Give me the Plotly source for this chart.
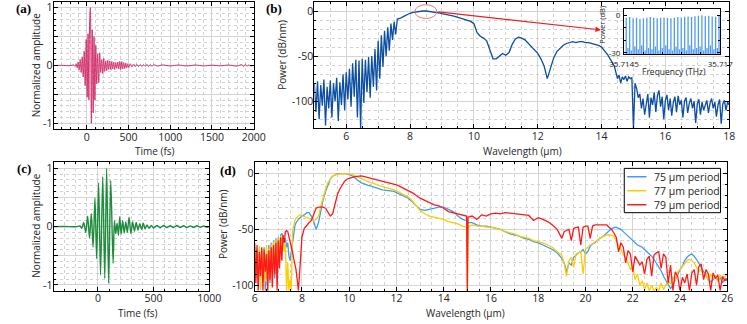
import plotly.graph_objects as go

# ---------------------------------------------------------------- data
# (a) input pulse, extrema
a_time_fs = [-400, -300, -200, -160, -140, -128, -116, -104, -92, -80,
             -68, -56, -44, -32, -20, -8, 4, 14, 24, 33,
             42, 54, 64, 76, 86, 96, 107, 118, 130, 142,
             154, 166, 178, 190, 202, 214, 226, 238, 250, 262,
             274, 286, 298, 310, 322, 334, 346, 358, 370, 382,
             394, 406, 418, 430, 442, 454, 466, 478, 490, 502,
             520, 540, 560, 580, 600, 620, 640, 660, 680, 700,
             720, 740, 760, 780, 800, 850, 900, 1000, 1100, 1200,
             1300, 1400, 1500, 1600, 1700, 1800, 1860, 1880, 1900, 1920,
             1940, 1960, 2000]
a_amplitude = [0, 0.003, -0.003, 0.01, -0.015, 0.03, -0.04, 0.06, -0.08, 0.1,
               -0.12, 0.15, -0.2, 0.25, -0.35, 0.45, -0.55, 0.55, -0.6, 0.75,
               1.0, -1.0, 0.62, -0.82, 0.5, -0.6, 0.35, -0.32, 0.2, -0.3,
               0.22, -0.12, 0.1, -0.14, 0.12, -0.1, 0.08, -0.09, 0.09, -0.07,
               0.08, -0.07, 0.07, -0.06, 0.06, -0.07, 0.05, -0.05, 0.06, -0.06,
               0.07, -0.07, 0.07, -0.06, 0.05, -0.05, 0.04, -0.04, 0.03, -0.035,
               0.03, -0.025, 0.025, -0.02, 0.02, -0.02, 0.018, -0.018, 0.015, -0.015,
               0.02, -0.02, 0.018, -0.015, 0.012, -0.01, 0.01, -0.008, 0.008, -0.008,
               0.008, -0.008, 0.006, -0.006, 0.008, -0.01, 0.015, -0.02, 0.02, -0.015,
               0.01, -0.005, 0]

# (c) compressed pulse
c_time_fs = [-400, -300, -200, -160, -146, -128, -110, -93, -76, -60,
             -44, -27, -12, 6, 23, 43, 61, 78, 96, 115,
             136, 148, 160, 172, 184, 196, 208, 222, 236, 250,
             264, 280, 296, 312, 328, 344, 360, 376, 392, 408,
             424, 440, 460, 480, 500, 530, 560, 590, 620, 650,
             680, 710, 740, 770, 800, 830, 860, 890, 920, 950,
             980, 1000]
c_amplitude = [0, 0.003, -0.003, 0.01, -0.03, 0.07, -0.1, 0.18, -0.2, 0.22,
               -0.35, 0.49, -0.55, 0.75, -0.83, 0.86, -0.89, 1.0, -0.97, 0.79,
               -0.63, 0.1, -0.12, 0.06, -0.15, 0.17, -0.13, 0.1, -0.11, 0.08,
               -0.1, 0.16, -0.12, 0.08, -0.08, 0.07, -0.06, 0.05, -0.05, 0.06,
               -0.04, 0.03, -0.03, 0.02, -0.025, 0.02, -0.02, 0.02, -0.015, 0.015,
               -0.015, 0.02, -0.015, 0.015, -0.018, 0.012, -0.015, 0.015, -0.012, 0.01,
               -0.01, 0]

# (b) output spectrum
b_wavelength = [5.00, 5.05, 5.10, 5.15, 5.20, 5.25, 5.30, 5.35, 5.40, 5.45,
                5.50, 5.55, 5.60, 5.65, 5.70, 5.75, 5.80, 5.85, 5.90, 5.95,
                6.00, 6.05, 6.10, 6.15, 6.20, 6.25, 6.30, 6.35, 6.40, 6.45,
                6.50, 6.55, 6.60, 6.65, 6.70, 6.75, 6.80, 6.85, 6.90, 6.95,
                7.00, 7.05, 7.10, 7.15, 7.20, 7.25, 7.30, 7.35, 7.40, 7.45,
                7.50, 7.55, 7.60,
                7.7, 7.8, 7.9,
                8.0, 8.1, 8.2, 8.3, 8.4, 8.5, 8.6, 8.7, 8.8, 8.9,
                9.0, 9.1, 9.2, 9.3, 9.4, 9.5, 9.6, 9.7, 9.8, 9.9,
                10.0, 10.1, 10.2, 10.3, 10.4, 10.5, 10.6, 10.7, 10.8, 10.9,
                11.0, 11.1, 11.2, 11.3, 11.4, 11.5, 11.6, 11.7, 11.8, 11.9,
                12.0, 12.1, 12.2, 12.3, 12.4, 12.5, 12.6, 12.7, 12.8, 12.9,
                13.0, 13.1, 13.2, 13.3, 13.4, 13.5, 13.6, 13.7, 13.8, 13.9,
                14.0, 14.1, 14.2, 14.3, 14.4,
                14.45, 14.50, 14.55, 14.60, 14.65, 14.70, 14.75, 14.80, 14.85, 14.90, 14.95,
                15.00, 15.05, 15.10, 15.15, 15.20, 15.25, 15.30, 15.35, 15.40, 15.45,
                15.50, 15.55, 15.60, 15.65, 15.70, 15.75, 15.80, 15.85, 15.90, 15.95,
                16.00, 16.05, 16.10, 16.15, 16.20, 16.25, 16.30, 16.35, 16.40, 16.45,
                16.50, 16.55, 16.60, 16.65, 16.70, 16.75, 16.80, 16.85, 16.90, 16.95,
                17.00, 17.05, 17.10, 17.15, 17.20, 17.25, 17.30, 17.35, 17.40, 17.45,
                17.50, 17.55, 17.60, 17.65, 17.70, 17.75, 17.80, 17.85, 17.90, 17.95,
                18.00]
b_power_db = [-80, -112, -78, -120, -82, -105, -76, -127, -84, -108,
              -77, -118, -80, -100, -74, -122, -79, -104, -70, -110,
              -68, -98, -64, -106, -58, -95, -54, -118, -55, -130,
              -53, -102, -54, -90, -51, -96, -50, -84, -42, -88,
              -33, -75, -27, -62, -22, -50, -18, -44, -14, -32,
              -12, -26, -9,
              -8, -6, -4,
              -2.5, -1.5, -0.8, -0.3, 0, 0, -0.3, -0.8, -1.5, -2,
              -3, -3.5, -4, -5, -6, -7, -8, -9, -10, -11.5,
              -14, -24, -28, -30, -33, -42, -53, -53, -50, -47,
              -49, -46, -37, -31, -29, -30, -32, -36, -39, -43,
              -47, -53, -61, -75, -62, -52, -45, -41, -38, -36,
              -35, -34, -35, -34, -34, -35, -35, -36, -37, -38,
              -40, -44, -49, -55, -61,
              -68, -75, -71, -80, -73, -76, -72, -78, -73, -75, -74,
              -130, -80, -86, -96, -92, -108, -97, -115, -100, -92,
              -118, -96, -104, -90, -112, -94, -88, -106, -95, -120,
              -99, -93, -110, -97, -116, -101, -95, -112, -94, -104,
              -99, -118, -100, -96, -113, -102, -97, -108, -100, -124,
              -103, -98, -115, -101, -110, -104, -99, -113, -102, -97,
              -108, -101, -117, -104, -98, -125, -103, -99, -110, -101,
              -104]

# (b) inset: comb lines around 35.716 THz
comb_freq_thz = [35.714558, 35.714647, 35.714737, 35.714826, 35.714915, 35.715005, 35.715094,
                 35.715183, 35.715272, 35.715362, 35.715451, 35.715540, 35.715630, 35.715719,
                 35.715808, 35.715898, 35.715987, 35.716076, 35.716165, 35.716255, 35.716344,
                 35.716433, 35.716523, 35.716612, 35.716701, 35.716791, 35.716880, 35.716969]
comb_peak_db = [-2, -1.5, -2.5, -2, -3, -2.5, -2, -1.5, -2, -2.5, -2, -1.8, -2.2, -2.5,
                -2, -1.5, -1.8, -1.2, -1, -1.5, -0.8, -0.5, 0, -0.8, -0.5, -1, -1.2, -0.5]
comb_floor_db = [-26, -28, -25, -27, -24, -28, -26, -27, -25, -28, -26, -24, -27, -28,
                 -25, -27, -26, -28, -24, -27, -26, -25, -28, -26, -24, -27, -26]

# (d) spectra for three poling periods (shared wavelength grid)
d_wavelength = [6.00, 6.05, 6.10, 6.15, 6.20, 6.25, 6.30, 6.35, 6.40, 6.45,
                6.50, 6.55, 6.60, 6.65, 6.70, 6.75, 6.80, 6.85, 6.90, 6.95,
                7.00, 7.05, 7.10, 7.15, 7.20, 7.25, 7.30, 7.35, 7.40, 7.45,
                7.50, 7.55, 7.60, 7.65, 7.70, 7.75, 7.80, 7.85, 7.90, 7.95,
                8.0, 8.1, 8.2, 8.3, 8.4, 8.5, 8.6, 8.7, 8.8, 8.9,
                9.0, 9.1, 9.2, 9.3, 9.4, 9.5, 9.6, 9.7, 9.8, 9.9,
                10.0, 10.1, 10.2, 10.3, 10.4, 10.5, 10.6, 10.7, 10.8, 10.9,
                11.0, 11.1, 11.2, 11.3, 11.4, 11.5, 11.6, 11.7, 11.8, 11.9,
                12.0, 12.1, 12.2, 12.3, 12.4, 12.5, 12.6, 12.7, 12.8, 12.9,
                13.0,
                13.2, 13.4, 13.6, 13.8, 14.0, 14.2, 14.4, 14.6, 14.8, 14.97, 15.0, 15.03,
                15.2, 15.4, 15.6, 15.8, 16.0, 16.2, 16.4, 16.6, 16.8, 17.0,
                17.2, 17.4, 17.6, 17.8, 18.0, 18.2, 18.4, 18.6, 18.8, 19.0,
                19.1, 19.2, 19.3, 19.4, 19.5, 19.6, 19.7, 19.8, 19.9, 20.0,
                20.1, 20.2, 20.3, 20.4, 20.5, 20.6, 20.7, 20.8, 20.9, 21.0,
                21.1, 21.2, 21.3, 21.4, 21.5, 21.6, 21.7, 21.8, 21.9, 22.0,
                22.1, 22.2, 22.3, 22.4, 22.5, 22.6, 22.7, 22.8, 22.9, 23.0,
                23.1, 23.2, 23.3, 23.4, 23.5, 23.6, 23.7, 23.8, 23.9, 24.0,
                24.1, 24.2, 24.3, 24.4, 24.5, 24.6, 24.7, 24.8, 24.9, 25.0,
                25.1, 25.2, 25.3, 25.4, 25.5, 25.6, 25.7, 25.8, 25.9, 26.0]
d_period_75 = [-70, -90, -68, -100, -72, -85, -70, -96, -66, -105,
               -70, -88, -64, -98, -62, -84, -60, -94, -58, -80,
               -57, -75, -55, -54, -56, -62, -58, -66, -62, -74,
               -78, -70, -58, -52, -47, -44, -42, -41, -40, -39,
               -38, -37, -35, -35, -38, -43, -50, -44, -33, -23,
               -16, -11, -5, -2.4, -1, 0, 0, 0, 0, -0.3,
               -0.8, -1.5, -3, -5, -6.5, -8, -9, -10, -10.5, -11,
               -11.8, -12.5, -13.3, -14, -14.5, -14.8, -15, -15.2, -15.5, -16,
               -17, -18, -19, -20, -21, -22, -24, -26, -28, -30,
               -32,
               -33, -32, -30.5, -30, -30, -32, -34, -38, -41, -42, -43, -44,
               -44, -46, -47, -47, -48, -49, -50, -52, -54, -55,
               -56, -58, -59, -61, -62, -64, -66, -68, -71, -76,
               -80, -88, -80, -82, -75, -73, -71, -70, -68, -72,
               -70, -65, -63, -62, -60, -58, -57, -55, -53, -51,
               -49.5, -48.5, -48, -49, -50, -52, -54, -56, -58, -60,
               -62, -64, -65, -66, -68, -70, -72, -74, -77, -80,
               -83, -87, -92, -96, -100, -103, -100, -95, -90, -86,
               -83, -78, -75, -73, -72, -74, -77, -80, -84, -88,
               -92, -95, -97, -95, -92, -96, -93, -98, -94, -96]
d_period_77 = [-66, -94, -72, -88, -65, -104, -70, -86, -68, -97,
               -64, -105, -67, -89, -63, -100, -61, -82, -59, -96,
               -58, -72, -56, -60, -57, -70, -62, -105, -80, -105,
               -95, -105, -52, -46, -42, -40, -39, -38, -37, -37,
               -38, -38.5, -39, -40, -41, -42, -41, -38, -29, -21,
               -14, -8, -5, -2.5, -1, -0.5, 0, 0, 0, 0,
               0, -0.5, -1.5, -2.5, -3.2, -4, -5, -6, -7, -8,
               -8.5, -9, -10, -11, -11.5, -12, -12.5, -13, -14, -14.5,
               -15.5, -16.5, -18, -19, -19.5, -21, -22.5, -25, -27, -30,
               -33,
               -36, -38, -39, -40, -41, -43, -44, -45, -47, -48, -105, -48,
               -46, -47, -47, -48, -48, -49, -50, -52, -53, -54,
               -56, -57, -58, -60, -61, -62, -64, -66, -70, -73,
               -81, -92, -78, -75, -84, -72, -71, -70, -90, -68,
               -66, -64, -63, -61, -60, -58, -57, -56, -55, -55,
               -55.5, -56, -60, -64, -68, -72, -76, -80, -86, -84,
               -95, -90, -100, -96, -104, -98, -105, -100, -105, -102,
               -105, -98, -104, -100, -96, -99, -93, -95, -88, -86,
               -83, -80, -78, -77, -78, -80, -84, -88, -86, -92,
               -89, -96, -90, -94, -92, -97, -91, -95, -93, -90]
d_period_79 = [-62, -98, -64, -105, -70, -92, -66, -105, -68, -88,
               -72, -105, -69, -95, -66, -102, -64, -90, -62, -105,
               -60, -85, -57, -78, -55, -62, -52, -51, -52, -56,
               -60, -64, -70, -76, -80, -86, -95, -105, -90, -68,
               -57, -49, -46, -44, -42, -36, -31, -30, -30, -30,
               -31, -35, -38, -36, -27, -19, -14, -10, -7, -5,
               -4, -3.5, -3, -2.5, -2, -2, -2.5, -3, -3.5, -4,
               -4.5, -5, -5.5, -6, -6.5, -7, -7.5, -8, -8.5, -9,
               -10, -11, -12, -13, -14, -15, -16, -17.5, -19, -20.5,
               -22,
               -24, -26, -28, -29, -31, -34, -35, -36, -37, -38, -105, -39,
               -38, -41, -37, -38, -36, -35.5, -36, -35, -35.5, -36,
               -36.5, -37, -37.5, -42, -39.5, -41, -43, -46, -50, -58,
               -52, -51, -50, -60, -49, -48.5, -48, -64, -48, -47,
               -47, -58, -47, -46, -46, -45.5, -46, -45.5, -46, -48,
               -50, -53, -57, -70, -62, -66, -80, -69, -72, -88,
               -74, -78, -82, -79, -90, -77, -74, -92, -73, -71,
               -70, -85, -72, -75, -98, -82, -105, -88, -92, -105,
               -93, -98, -90, -105, -89, -86, -100, -83, -81, -95,
               -86, -90, -105, -89, -94, -91, -105, -92, -96, -94]
d_labels = ['75 μm period', '77 μm period', '79 μm period']

# ---------------------------------------------------------------- style
W, H = 747, 324
FONT = 'Open Sans'
TXT = '#262626'
PINK, NAVY, GREEN = '#d2326e', '#0b4ea2', '#1e8c3c'
D_COLORS = ['#3d9df5', '#ffcc00', '#ff1a1a']
COMB = '#4f9bf0'


def px_x(a, b):
    return [a / W, b / W]


def px_y(top, bottom):
    return [1 - bottom / H, 1 - top / H]


def frame(domain, rng, anchor, **kw):
    ax = dict(domain=domain, range=rng, anchor=anchor, showline=True, linecolor='black',
              linewidth=1, mirror='allticks', ticks='inside', ticklen=4, tickcolor='black',
              showgrid=True, gridcolor='#d4d4d4', gridwidth=1, zeroline=False,
              ticklabelstandoff=-2, tickfont=dict(family=FONT, size=10.5, color=TXT),
              fixedrange=True)
    ax.update(kw)
    return ax


def minor(step, tick0=0):
    return dict(tickmode='linear', tick0=tick0, dtick=step, ticks='inside', ticklen=2,
                tickcolor='black', showgrid=True, gridcolor='#d2d2d2', griddash='dot')


fig = go.Figure()

fig.add_trace(go.Scatter(x=a_time_fs, y=a_amplitude, mode='lines', xaxis='x', yaxis='y',
                         line=dict(color=PINK, width=1, shape='spline', smoothing=0.8),
                         showlegend=False))
fig.add_trace(go.Scatter(x=b_wavelength, y=b_power_db, mode='lines', xaxis='x2', yaxis='y2',
                         line=dict(color=NAVY, width=1.3), showlegend=False))
fig.add_trace(go.Scatter(x=c_time_fs, y=c_amplitude, mode='lines', xaxis='x3', yaxis='y3',
                         line=dict(color=GREEN, width=1.4, shape='spline', smoothing=0.8),
                         showlegend=False))
for series, name, color in zip([d_period_75, d_period_77, d_period_79], d_labels, D_COLORS):
    fig.add_trace(go.Scatter(x=d_wavelength, y=series, mode='lines', xaxis='x4', yaxis='y4',
                             name=name, line=dict(color=color, width=1.3), showlegend=False))

# inset comb lines
comb_x, comb_y = [], []
for f, p in zip(comb_freq_thz, comb_peak_db):
    comb_x += [f, f, None]
    comb_y += [-31, p, None]
for i, p in enumerate(comb_floor_db):
    f = (comb_freq_thz[i] + comb_freq_thz[i + 1]) / 2
    comb_x += [f, f, None]
    comb_y += [-31, p, None]
fig.add_trace(go.Scatter(x=comb_x, y=comb_y, mode='lines', xaxis='x5', yaxis='y5',
                         line=dict(color=COMB, width=1.3), showlegend=False))

amp_ticks = dict(tickmode='array', tickvals=[-1, -0.5, 0, 0.5, 1], ticktext=['-1', '', '0', '', '1'])
db_ticks = dict(tickmode='array', tickvals=[-100, -50, 0], ticktext=['-100', '-50', '0'])
inset_font = dict(family=FONT, size=8, color=TXT)

fig.update_layout(
    width=W, height=H, margin=dict(l=0, r=0, t=0, b=0),
    paper_bgcolor='white', plot_bgcolor='white',
    font=dict(family=FONT, size=10.5, color=TXT),
    xaxis=frame(px_x(40, 248), [-400, 2000], 'y', tick0=0, dtick=500, minor=minor(100)),
    yaxis=frame(px_y(1, 130), [-1.1, 1.1], 'x', minor=minor(0.1), **amp_ticks),
    xaxis2=frame(px_x(311, 742), [5, 18], 'y2', tick0=6, dtick=2, minor=minor(0.5, 5)),
    yaxis2=frame(px_y(1, 129.3), [-130, 10], 'x2', minor=minor(10), **db_ticks),
    xaxis3=frame(px_x(40, 201.7), [-400, 1000], 'y3', tick0=0, dtick=500, minor=minor(100)),
    yaxis3=frame(px_y(164, 294.3), [-1.1, 1.1], 'x3', minor=minor(0.1), **amp_ticks),
    xaxis4=frame(px_x(249, 740), [6, 26], 'y4', tick0=6, dtick=2, minor=minor(0.5, 6)),
    yaxis4=frame(px_y(164, 294.3), [-105, 10], 'x4', minor=minor(10), **db_ticks),
    xaxis5=frame(px_x(632.7, 732.7), [35.7145, 35.717], 'y5', showgrid=False, tickmode='array',
                 tickvals=[35.7145, 35.717], ticktext=['35.7145', '35.717'], ticklen=3,
                 ticklabelstandoff=2, tickfont=inset_font,
                 minor=dict(tickmode='linear', tick0=35.7145, dtick=0.0005, ticks='inside',
                            ticklen=2, tickcolor='black')),
    yaxis5=frame(px_y(8, 54), [-31, 5], 'x5', showgrid=False, tickmode='array', tickvals=[-30, 0],
                 ticktext=['-30', '0'], ticklen=3, ticklabelstandoff=1, tickfont=inset_font,
                 minor=dict(tickmode='linear', tick0=0, dtick=10, ticks='inside', ticklen=2,
                            tickcolor='black')),
)

# white backdrop for the inset and the marker ellipse in (b)
fig.add_shape(type='rect', xref='x5', yref='y5', x0=35.7145, x1=35.717, y0=-31, y1=5,
              fillcolor='white', line=dict(width=0), layer='below')
fig.add_shape(type='circle', xref='x2', yref='y2', x0=8.15, x1=8.84, y0=-8.3, y1=7,
              line=dict(color='#f06464', width=0.9))
fig.add_annotation(xref='x2', yref='y2', axref='x2', ayref='y2', x=13.98, y=-21,
                   ax=8.84, ay=-0.8, text='', showarrow=True, arrowhead=2, arrowsize=1,
                   arrowwidth=1.1, arrowcolor='#ee2020')

# legend box of (d), MATLAB style
fig.add_shape(type='rect', xref='paper', yref='paper', x0=633 / W, x1=733 / W,
              y0=1 - 215 / H, y1=1 - 170 / H, fillcolor='white',
              line=dict(color='black', width=1), layer='above')
for i, (name, color) in enumerate(zip(d_labels, D_COLORS)):
    row = 178.5 + 14.2 * i
    fig.add_shape(type='line', xref='paper', yref='paper', x0=636 / W, x1=656 / W,
                  y0=1 - row / H, y1=1 - row / H, line=dict(color=color, width=1.5), layer='above')
    fig.add_annotation(xref='paper', yref='paper', x=662 / W, y=1 - row / H, text=name,
                       showarrow=False, xanchor='left', yanchor='middle',
                       font=dict(family=FONT, size=10.5, color=TXT))

labels = [  # text, x px, y px, angle, size
    ('Time (fs)', 145, 152, 0, 10),
    ('Normalized amplitude', 22, 65, -90, 10),
    ('Wavelength (μm)', 527, 152, 0, 10),
    ('Power (dB/nm)', 278, 55, -90, 10),
    ('Time (fs)', 128, 316.5, 0, 10),
    ('Normalized amplitude', 22, 228, -90, 10),
    ('Wavelength (μm)', 468, 316.5, 0, 10),
    ('Power (dB/nm)', 216.7, 227, -90, 10),
    ('Power (dB)', 609, 24, -90, 7.5),
    ('Frequency (THz)', 685, 72, 0, 8.5),
]
for text, x, y, angle, size in labels:
    fig.add_annotation(xref='paper', yref='paper', x=x / W, y=1 - y / H, text=text,
                       textangle=angle, showarrow=False, xanchor='center', yanchor='middle',
                       font=dict(family=FONT, size=size, color=TXT))

for text, x, y in [('(a)', 9, 8), ('(b)', 269, 8), ('(c)', 9, 170), ('(d)', 221, 172)]:
    fig.add_annotation(xref='paper', yref='paper', x=x / W, y=1 - y / H, text=f'<b>{text}</b>',
                       showarrow=False, xanchor='center', yanchor='middle',
                       font=dict(family='Liberation Serif', size=13, color='black'))

# the default page keeps an 8px body margin; drop it so the figure fills the window
fig.write_html('out.html', config={'displayModeBar': False},
               post_script="document.body.style.margin='0';")
